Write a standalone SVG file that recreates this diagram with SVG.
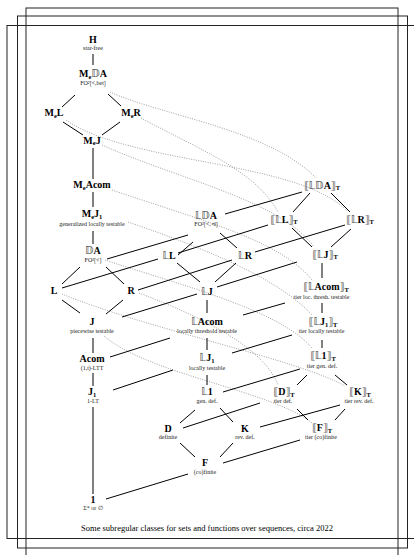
<svg xmlns="http://www.w3.org/2000/svg" width="414" height="555" viewBox="0 0 414 555">
<style>
.lb{font-family:"Liberation Serif","DejaVu Serif","DejaVu Sans",serif;font-weight:bold;font-size:10px;text-anchor:middle;fill:#000}
.s{font-size:6.5px}
.bb{fill:#555}
.sub{font-family:"Liberation Serif","DejaVu Serif",serif;font-size:6px;text-anchor:middle;fill:#222}
.e{stroke:#000;stroke-width:1;fill:none}
.d{stroke:#888;stroke-width:0.8;stroke-dasharray:1 1.4;fill:none}
.fr{stroke:#222;stroke-width:1;fill:none}
.cap{font-family:"Liberation Serif",serif;font-size:8.5px;text-anchor:middle;fill:#000}
</style>
<rect width="414" height="555" fill="#fff"/>
<g id="frames">
<rect class="fr" x="26" y="8" width="372" height="560"/>
<rect class="fr" x="17.5" y="16" width="390" height="532"/>
<rect class="fr" x="7" y="25.5" width="420" height="513"/>
</g>
<g id="connectors">
<path class="d" d="M110,92 C160,115 270,130 316,178"/>
<path class="d" d="M141,118 C200,150 255,170 278,212"/>
<path class="d" d="M66,120 C130,165 300,160 348,212"/>
<path class="d" d="M102,145 C180,180 280,200 314,247"/>
<path class="d" d="M112,190 C200,220 280,240 312,280"/>
<path class="d" d="M128,222 C210,250 280,280 312,315"/>
<path class="d" d="M105,260 C180,285 280,310 312,348"/>
<path class="d" d="M62,294 C150,330 300,360 345,386"/>
<path class="d" d="M139,293 C210,320 265,350 278,385"/>
<path class="d" d="M104,336 C150,375 270,390 312,423"/>
<path class="e" d="M93,54V65 M75,95L62,107 M108,94L121,106 M63,122L83,135 M120,122L102,135 M93,148V179 M93,192V207 M93,231V244 M80,267L62,284 M106,267L124,284 M62,300L80,313 M123,300L106,314 M93,338V353 M93,373V386 M93,407V494 M106,499L188,474 M180,443L195,457 M195,410L180,423 M183,428L260,403 M220,408L233,422 M233,443L220,457 M260,427L340,405 M223,463L300,440 M223,392L300,369 M232,353L292,335 M113,390L173,370 M207,375V385 M207,338V350 M110,357L170,338 M243,315L285,303 M207,300V313 M122,317L197,294 M217,287L297,262 M177,263L200,282 M236,263L215,282 M138,290L232,260 M62,288L158,259 M255,252L345,225 M178,253L268,225 M107,259L188,235 M193,242L178,255 M220,233L237,248 M225,214L302,192 M310,193L293,212 M331,193L350,212 M292,228L312,247 M351,229L331,247 M322,263V278 M322,303V313 M322,340V348 M307,375L297,385 M335,375L347,385 M297,409L308,420 M345,409L335,420"/>
</g>
<g id="H"><text class="lb" x="93" y="43">H</text><text class="sub" x="93" y="49.5">star-free</text></g>
<g id="MeDA"><text class="lb" x="93" y="77">M<tspan class="s" dy="1.5">e</tspan><tspan class="bb" dy="-1.5">𝔻</tspan>A</text><text class="sub" x="93" y="85">FO²[&lt;,bet]</text></g>
<g id="MeL"><text class="lb" x="54" y="116">M<tspan class="s" dy="1.5">e</tspan><tspan dy="-1.5">L</tspan></text></g>
<g id="MeR"><text class="lb" x="131" y="116">M<tspan class="s" dy="1.5">e</tspan><tspan dy="-1.5">R</tspan></text></g>
<g id="MeJ"><text class="lb" x="92" y="143.5">M<tspan class="s" dy="1.5">e</tspan><tspan dy="-1.5">J</tspan></text></g>
<g id="MeAcom"><text class="lb" x="92" y="188">M<tspan class="s" dy="1.5">e</tspan><tspan dy="-1.5">Acom</tspan></text></g>
<g id="MeJ1"><text class="lb" x="92" y="217">M<tspan class="s" dy="1.5">e</tspan><tspan dy="-1.5">J</tspan><tspan class="s" dy="1.5">1</tspan></text><text class="sub" x="92" y="226">generalized locally testable</text></g>
<g id="DA"><text class="lb" x="93" y="253.5"><tspan class="bb">𝔻</tspan>A</text><text class="sub" x="93" y="262">FO²[&lt;]</text></g>
<g id="L"><text class="lb" x="54" y="294">L</text></g>
<g id="R"><text class="lb" x="131" y="294">R</text></g>
<g id="J"><text class="lb" x="92" y="325">J</text><text class="sub" x="92" y="333">piecewise testable</text></g>
<g id="Acom"><text class="lb" x="92" y="362">Acom</text><text class="sub" x="92" y="369.5">(1,t)-LTT</text></g>
<g id="J1"><text class="lb" x="92" y="395">J<tspan class="s" dy="1.5">1</tspan></text><text class="sub" x="93" y="403">1-LT</text></g>
<g id="One"><text class="lb" x="93" y="502.5">1</text><text class="sub" x="93" y="510">Σ* or ∅</text></g>
<g id="D"><text class="lb" x="168" y="432">D</text><text class="sub" x="168" y="439">definite</text></g>
<g id="F"><text class="lb" x="205" y="466">F</text><text class="sub" x="205" y="473.5">(co)finite</text></g>
<g id="K"><text class="lb" x="245" y="432">K</text><text class="sub" x="245" y="439">rev. def.</text></g>
<g id="LDA"><text class="lb" x="206" y="219"><tspan class="bb">𝕃𝔻</tspan>A</text><text class="sub" x="206" y="226">FO²[&lt;,⊲]</text></g>
<g id="LL"><text class="lb" x="169" y="259"><tspan class="bb">𝕃</tspan>L</text></g>
<g id="LR"><text class="lb" x="245" y="259"><tspan class="bb">𝕃</tspan>R</text></g>
<g id="LJ"><text class="lb" x="207" y="295"><tspan class="bb">𝕃</tspan>J</text></g>
<g id="LAcom"><text class="lb" x="207" y="325"><tspan class="bb">𝕃</tspan>Acom</text><text class="sub" x="207" y="333">locally threshold testable</text></g>
<g id="LJ1"><text class="lb" x="207" y="361"><tspan class="bb">𝕃</tspan>J<tspan class="s" dy="1.5">1</tspan></text><text class="sub" x="207" y="369.5">locally testable</text></g>
<g id="L1"><text class="lb" x="207" y="395"><tspan class="bb">𝕃</tspan>1</text><text class="sub" x="207" y="403">gen. def.</text></g>
<g id="TLDA"><text class="lb" x="322" y="188.5"><tspan class="bb">⟦𝕃𝔻</tspan>A<tspan class="bb">⟧</tspan><tspan class="s" dy="1.5">T</tspan></text></g>
<g id="TLL"><text class="lb" x="284" y="222.5"><tspan class="bb">⟦𝕃</tspan>L<tspan class="bb">⟧</tspan><tspan class="s" dy="1.5">T</tspan></text></g>
<g id="TLR"><text class="lb" x="360" y="222.5"><tspan class="bb">⟦𝕃</tspan>R<tspan class="bb">⟧</tspan><tspan class="s" dy="1.5">T</tspan></text></g>
<g id="TLJ"><text class="lb" x="325" y="257.5"><tspan class="bb">⟦𝕃</tspan>J<tspan class="bb">⟧</tspan><tspan class="s" dy="1.5">T</tspan></text></g>
<g id="TLAcom"><text class="lb" x="326" y="290"><tspan class="bb">⟦𝕃</tspan>Acom<tspan class="bb">⟧</tspan><tspan class="s" dy="1.5">T</tspan></text><text class="sub" x="321.5" y="298.5">tier loc. thresh. testable</text></g>
<g id="TLJ1"><text class="lb" x="323" y="325"><tspan class="bb">⟦𝕃</tspan>J<tspan class="s" dy="1.5">1</tspan><tspan class="bb" dy="-1.5">⟧</tspan><tspan class="s" dy="1.5">T</tspan></text><text class="sub" x="321.5" y="332.5">tier locally testable</text></g>
<g id="TL1"><text class="lb" x="323" y="359"><tspan class="bb">⟦𝕃</tspan>1<tspan class="bb">⟧</tspan><tspan class="s" dy="1.5">T</tspan></text><text class="sub" x="322" y="367.5">tier gen. def.</text></g>
<g id="TD"><text class="lb" x="284" y="395"><tspan class="bb">⟦</tspan>D<tspan class="bb">⟧</tspan><tspan class="s" dy="1.5">T</tspan></text><text class="sub" x="283" y="403">tier def.</text></g>
<g id="TK"><text class="lb" x="360" y="395"><tspan class="bb">⟦</tspan>K<tspan class="bb">⟧</tspan><tspan class="s" dy="1.5">T</tspan></text><text class="sub" x="359" y="403">tier rev. def.</text></g>
<g id="TF"><text class="lb" x="322" y="431"><tspan class="bb">⟦</tspan>F<tspan class="bb">⟧</tspan><tspan class="s" dy="1.5">T</tspan></text><text class="sub" x="321" y="439">tier (co)finite</text></g>
<text class="cap" x="207" y="530.5">Some subregular classes for sets and functions over sequences, circa 2022</text>
</svg>
